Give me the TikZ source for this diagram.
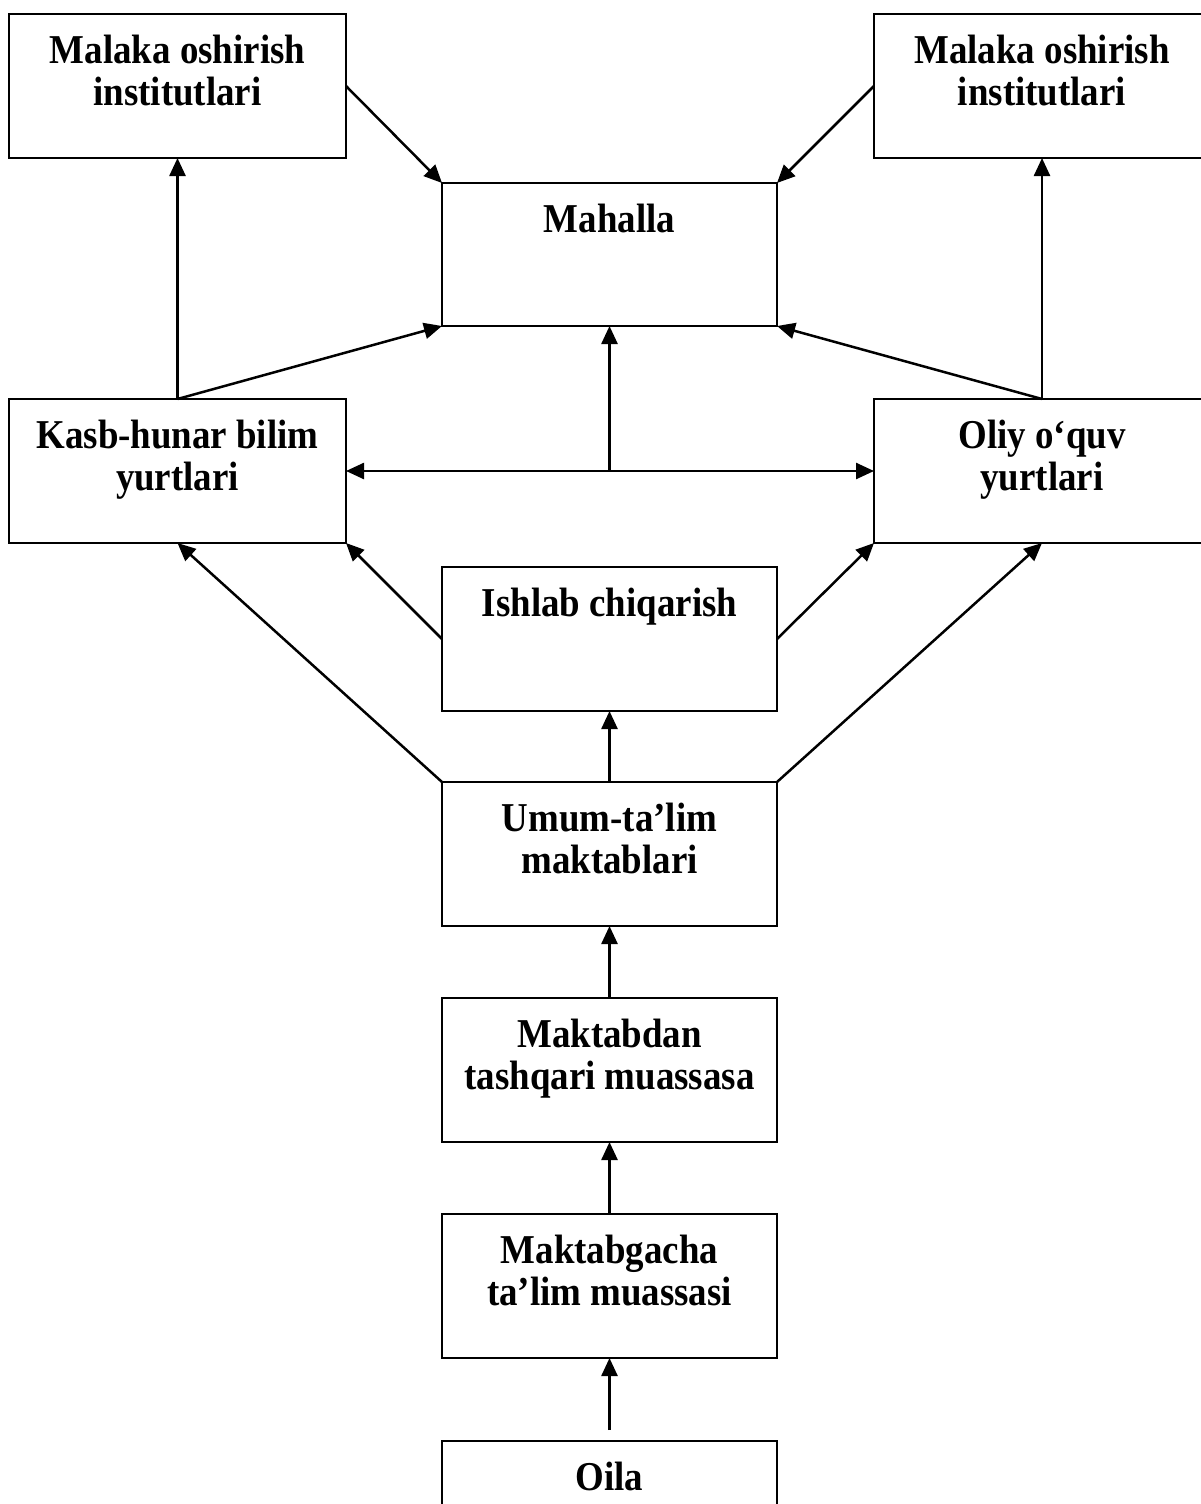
\documentclass[tikz,border=0pt]{standalone}
\usepackage{fontspec}
\setmainfont{Liberation Serif}[FakeStretch=0.9]
\usetikzlibrary{arrows.meta}
\begin{document}
\begin{tikzpicture}[x=1pt,y=-1pt,
  box/.style={draw, line width=2pt, minimum width=#1, minimum height=144pt,
    anchor=north west, inner sep=0pt, outer sep=0pt},
  lbl/.style={anchor=north, yshift=-21pt, align=center, inner sep=0pt,
    font=\bfseries\fontsize{41}{42}\selectfont},
  arr/.style={line width=2.5pt, -{Triangle[length=18pt,width=16pt]}},
  darr/.style={line width=2.5pt, {Triangle[length=18pt,width=16pt]}-{Triangle[length=18pt,width=16pt]}}]
\useasboundingbox (0,0) rectangle (1201,1504);
\clip (0,0) rectangle (1201,1504);
\fill[white] (0,0) rectangle (1201,1504);

\node[box=337pt, label={[lbl]north:{Malaka oshirish\\institutlari}}] (ml) at (9,14) {};
\node[box=336pt, label={[lbl]north:{Malaka oshirish\\institutlari}}] (mr) at (874,14) {};
\node[box=335pt, minimum height=143pt, label={[lbl]north:{Mahalla}}] (mh) at (442,183) {};
\node[box=337pt, label={[lbl]north:{Kasb-hunar bilim\\yurtlari}}] (kb) at (9,399) {};
\node[box=336pt, label={[lbl]north:{Oliy o‘quv\\yurtlari}}] (oy) at (874,399) {};
\node[box=335pt, label={[lbl]north:{Ishlab chiqarish}}] (is) at (442,567) {};
\node[box=335pt, label={[lbl]north:{Umum-ta’lim\\maktablari}}] (um) at (442,782) {};
\node[box=335pt, label={[lbl]north:{Maktabdan\\tashqari muassasa}}] (md) at (442,998) {};
\node[box=335pt, label={[lbl]north:{Maktabgacha\\ta’lim muassasi}}] (mg) at (442,1214) {};
\node[box=335pt, label={[lbl]north:{Oila}}] (ol) at (442,1441) {};

\coordinate (j) at (609.5,470.5);
\coordinate (os) at (609.5,1430);

\draw[arr] (kb.north) -- (ml.south);
\draw[arr] (kb.north) -- (mh.south west);
\draw[arr] (ml.east) -- (mh.north west);
\draw[arr] (mr.west) -- (mh.north east);
\draw[arr] (oy.north) -- (mr.south);
\draw[arr] (oy.north) -- (mh.south east);
\draw[arr] (j) -- (mh.south);
\draw[darr] (kb.east) -- (oy.west);
\draw[arr] (is.west) -- (kb.south east);
\draw[arr] (is.east) -- (oy.south west);
\draw[arr] (um.north west) -- (kb.south);
\draw[arr] (um.north east) -- (oy.south);
\draw[arr] (um.north) -- (is.south);
\draw[arr] (md.north) -- (um.south);
\draw[arr] (mg.north) -- (md.south);
\draw[arr] (os) -- (mg.south);
\end{tikzpicture}
\end{document}
